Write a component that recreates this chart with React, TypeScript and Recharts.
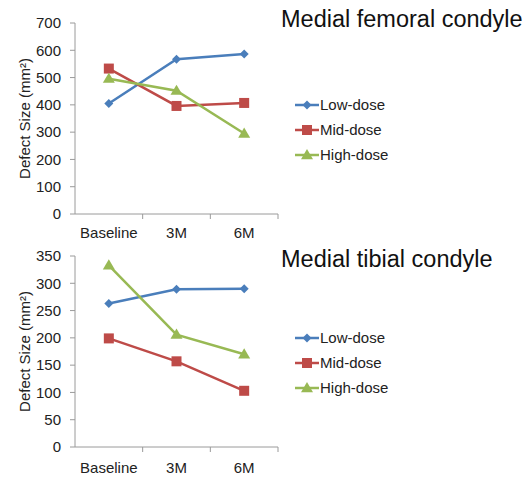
import { LineChart, Line, XAxis, YAxis } from 'recharts'

const periods = ['Baseline', '3M', '6M']

const femoralLow = [405, 567, 586]
const femoralMid = [533, 396, 407]
const femoralHigh = [496, 452, 295]

const tibialLow = [263, 289, 290]
const tibialMid = [199, 157, 103]
const tibialHigh = [333, 206, 170]

const femoralTicks = [0, 100, 200, 300, 400, 500, 600, 700]
const tibialTicks = [0, 50, 100, 150, 200, 250, 300, 350]

const seriesNames = ['Low-dose', 'Mid-dose', 'High-dose']
const seriesColors = ['#4A7EBB', '#BE4B48', '#98B954']
const seriesShapes = ['diamond', 'square', 'triangle']

const FONT = '"Liberation Sans", Arial, Helvetica, sans-serif'
const AXIS = '#9a9a9a'

const Marker = ({ cx, cy, shape, color }: any) => {
  if (cx == null || cy == null) return null
  if (shape === 'diamond') {
    const r = 4.5
    return <path d={`M${cx},${cy - r}L${cx + r},${cy}L${cx},${cy + r}L${cx - r},${cy}Z`} fill={color} />
  }
  if (shape === 'square') {
    const r = 5
    return <rect x={cx - r} y={cy - r} width={r * 2} height={r * 2} fill={color} />
  }
  const r = 6
  return <path d={`M${cx},${cy - r}L${cx + r},${cy + r * 0.7}L${cx - r},${cy + r * 0.7}Z`} fill={color} />
}

// category labels sit mid-band, tick marks sit on the band edges
const CategoryTick = ({ x, y, payload, width, visibleTicksCount, labelDy }: any) => {
  const half =
    payload?.offset && payload.offset > 0
      ? payload.offset
      : width && visibleTicksCount
        ? width / visibleTicksCount / 2
        : 34
  return (
    <g>
      <line x1={x + half} x2={x + half} y1={y} y2={y + 5} stroke={AXIS} />
      <text x={x} y={y + labelDy} textAnchor="middle" fill="#222" fontSize={15} fontFamily={FONT}>
        {payload.value}
      </text>
    </g>
  )
}

function DosePanel({ low, mid, high, ticks, height, top, xHeight, labelDy }: any) {
  const rows = periods.map((p, i) => ({ period: p, low: low[i], mid: mid[i], high: high[i] }))
  const keys = ['low', 'mid', 'high']
  return (
    <LineChart width={290} height={height} data={rows} margin={{ top, right: 12, bottom: 0, left: 0 }}>
      <XAxis
        dataKey="period"
        scale="band"
        height={xHeight}
        stroke={AXIS}
        tickSize={0}
        tickMargin={0}
        tickLine={false}
        interval={0}
        tick={<CategoryTick labelDy={labelDy} />}
      />
      <YAxis
        width={75}
        domain={[0, ticks[ticks.length - 1]]}
        ticks={ticks}
        interval={0}
        stroke={AXIS}
        tickSize={5}
        tickMargin={9}
        tick={{ fill: '#222', fontSize: 15, fontFamily: FONT }}
        label={{
          value: 'Defect Size (mm²)',
          angle: -90,
          position: 'insideLeft',
          offset: 25,
          style: { textAnchor: 'middle', fill: '#222', fontSize: 15, fontFamily: FONT },
        }}
      />
      {keys.map((k, i) => (
        <Line
          key={k}
          dataKey={k}
          name={seriesNames[i]}
          stroke={seriesColors[i]}
          strokeWidth={2.5}
          isAnimationActive={false}
          dot={(p: any) => <Marker key={`${k}-${p.index}`} cx={p.cx} cy={p.cy} shape={seriesShapes[i]} color={seriesColors[i]} />}
        />
      ))}
    </LineChart>
  )
}

const DoseLegend = ({ top }: { top: number }) => (
  <div style={{ position: 'absolute', left: 295, top, fontFamily: FONT, fontSize: 15, color: '#222' }}>
    {seriesNames.map((name, i) => (
      <div key={name} style={{ display: 'flex', alignItems: 'center', height: 25 }}>
        <svg width={24} height={14} style={{ marginRight: 1 }}>
          <line x1={0} x2={24} y1={7} y2={7} stroke={seriesColors[i]} strokeWidth={2.5} />
          <Marker cx={12} cy={7} shape={seriesShapes[i]} color={seriesColors[i]} />
        </svg>
        <span>{name}</span>
      </div>
    ))}
  </div>
)

const Title = ({ text, top }: { text: string; top: number }) => (
  <div style={{ position: 'absolute', left: 281, top, fontFamily: FONT, fontSize: 23.5, color: '#111', lineHeight: '26px' }}>
    {text}
  </div>
)

export default function App() {
  return (
    <div style={{ position: 'absolute', left: 0, top: 0, width: 531, height: 478, background: '#fff' }}>
      <div style={{ position: 'absolute', left: 0, top: 0 }}>
        <DosePanel low={femoralLow} mid={femoralMid} high={femoralHigh} ticks={femoralTicks} height={240} top={23} xHeight={26} labelDy={24} />
      </div>
      <div style={{ position: 'absolute', left: 0, top: 240 }}>
        <DosePanel low={tibialLow} mid={tibialMid} high={tibialHigh} ticks={tibialTicks} height={238} top={16} xHeight={31} labelDy={26} />
      </div>
      <Title text="Medial femoral condyle" top={6} />
      <Title text="Medial tibial condyle" top={246} />
      <DoseLegend top={92} />
      <DoseLegend top={325} />
    </div>
  )
}
